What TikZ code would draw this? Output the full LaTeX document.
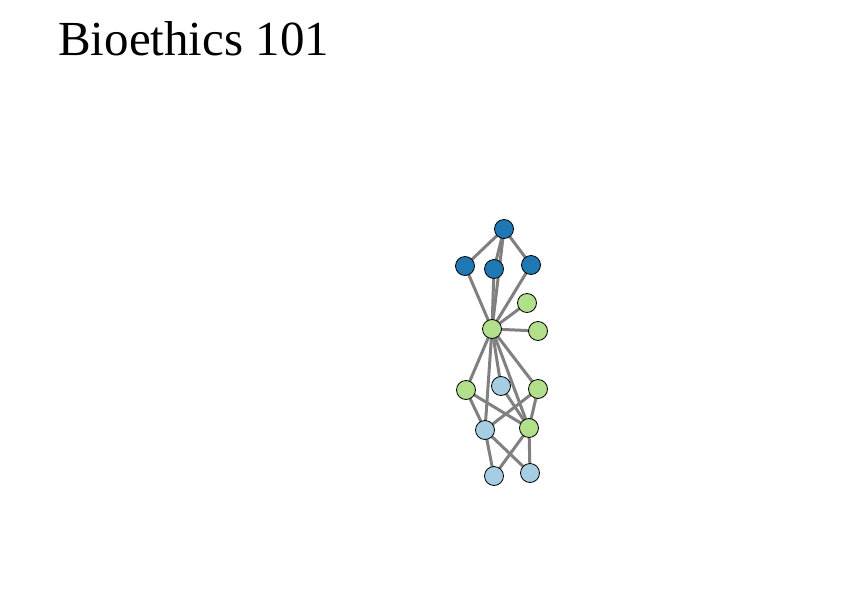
\documentclass[tikz,border=0pt]{standalone}
\usepackage{fontspec}
\setmainfont{Liberation Serif}
\usepackage{tikz}
\usetikzlibrary{positioning, backgrounds}
\definecolor{bgDark}{HTML}{1F78B4}
\definecolor{bgGreen}{HTML}{B2DF8A}
\definecolor{bgLight}{HTML}{A6CEE3}
\definecolor{bgEdge}{HTML}{808080}
\tikzset{
  vtx/.style={circle, draw=black, line width=0.8pt, minimum size=19pt, inner sep=0pt},
  darkv/.style={vtx, fill=bgDark},
  greenv/.style={vtx, fill=bgGreen},
  lightv/.style={vtx, fill=bgLight},
  link/.style={draw=bgEdge, line width=3pt},
  title/.style={font=\fontsize{49}{58}\selectfont, anchor=base west, inner sep=0pt}
}

\begin{document}
\begin{tikzpicture}[x=1pt, y=-1pt]
  \useasboundingbox (0,0) rectangle (855,600);
  \node[title] (ttl) at (58,55) {Bioethics 101};

  % nodes
  \node[darkv] (top) at (504,229) {};
  \node[darkv] (dl) at (465,266) {};
  \node[darkv] (dm) at (494,269) {};
  \node[darkv] (dr) at (531,265) {};
  \node[greenv] (ga) at (527,303) {};
  \node[greenv] (hub) at (492,329) {};
  \node[greenv] (gb) at (538,331) {};
  \node[greenv] (gl) at (466,390) {};
  \node[lightv] (lm) at (501,386) {};
  \node[greenv] (gr) at (538,389) {};
  \node[lightv] (lp) at (485,430) {};
  \node[greenv] (gq) at (529,428) {};
  \node[lightv] (lu) at (494,476) {};
  \node[lightv] (lv) at (530,473) {};

  % edges behind the nodes
  \begin{scope}[on background layer]
  \foreach \a/\b in {top/dl, top/dm, top/dr, top/hub, dl/hub, dm/hub, dr/hub,
                     ga/hub, gb/hub, hub/gl, hub/lm, hub/lp, hub/gq, hub/gr,
                     gl/lp, gl/gq, lm/gq, gr/lp, gr/gq, lp/lu, lp/lv, gq/lu, gq/lv}
    \draw[link] (\a.center) -- (\b.center);
  \end{scope}
\end{tikzpicture}
\end{document}
